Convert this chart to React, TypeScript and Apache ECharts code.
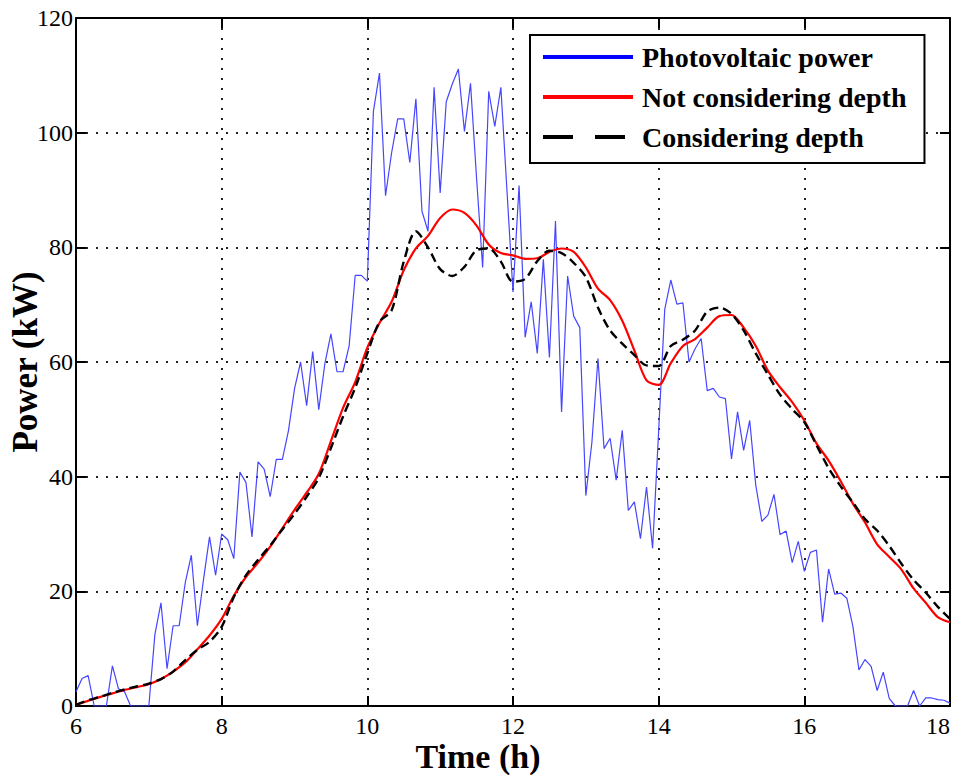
import React, { useEffect, useRef } from "react";
import * as echarts from "echarts";

// Photovoltaic power (kW), 5-minute samples from 6:00 to 18:00
const pvPower = [
  2.5, 4.8, 5.3, 0, 0, 0, 7, 3, 2.5, 0, 0, 0,
  0, 12.5, 18, 6.5, 14, 14, 21.5, 26.3, 14, 22, 29.5, 22.8,
  30, 29, 25.7, 40.8, 39, 29.5, 42.6, 41.3, 36.5, 43, 43, 48,
  55.3, 60, 52.4, 61.8, 51.7, 59.7, 64.9, 58.3, 58.3, 62.8, 75.1, 75.1,
  74.1, 103.7, 110.4, 89, 96.5, 102.4, 102.4, 94.8, 105.9, 86.3, 82.8, 107.9,
  89.5, 105.4, 108.5, 111.1, 100.2, 108.6, 92, 76.5, 107.2, 101.1, 107.9, 90,
  72.2, 90.8, 64.3, 70.5, 61.5, 77.9, 60.8, 84.6, 51.3, 75, 68, 66,
  36.7, 46, 60.6, 44.9, 46.7, 39.4, 48.1, 34.1, 35.6, 29.2, 38.2, 27.5,
  48, 69.2, 74.3, 70.1, 70.3, 60, 62.3, 64.1, 55, 55.4, 53.9, 53.6,
  43.1, 51.3, 44.6, 49.8, 38.5, 32.2, 33.3, 36.9, 29.9, 30.5, 25, 28.7,
  23.5, 26.8, 27.2, 14.6, 23.9, 19.5, 19.7, 18.8, 13.9, 6.3, 8.1, 6.9,
  2.7, 5.9, 1.3, 0, 0, 0, 2.7, 0, 1.4, 1.4, 1.1, 1,
  0.5,
];

// Not considering depth (kW), 10-minute samples from 6:00 to 18:00
const notConsideringDepth = [
  0.2, 0.9, 1.6, 2.2, 2.8, 3.3,
  3.8, 4.7, 6.0, 7.6, 9.9, 12.3,
  15.2, 19.2, 22.5, 25.0, 27.8, 31.0,
  34.2, 37.2, 40.5, 46.2, 52.0, 56.5,
  62.5, 66.8, 70.5, 76.0, 79.8, 82.0,
  85.1, 86.6, 86.0, 83.8, 80.5, 79.0,
  78.6, 78.0, 78.1, 79.2, 79.8, 79.2,
  76.5, 72.8, 70.8, 67.2, 62.0, 56.8,
  56.0, 59.8, 62.8, 64.0, 66.0, 68.0,
  68.2, 66.0, 62.8, 58.5, 55.6, 53.0,
  49.8, 45.8, 42.8, 39.2, 35.3, 32.0,
  28.2, 26.0, 23.8, 20.5, 18.0, 15.5,
  14.6,
];

// Considering depth (kW), 10-minute samples from 6:00 to 18:00
const consideringDepth = [
  0.2, 1.0, 1.6, 2.3, 2.9, 3.4,
  3.9, 4.7, 6.0, 8.0, 9.8, 11.2,
  13.8, 19.0, 22.8, 25.5, 28.0, 30.8,
  33.5, 36.5, 39.8, 45.0, 50.5, 55.5,
  61.5, 67.0, 69.0, 77.5, 82.8, 80.0,
  76.2, 75.0, 76.6, 79.5, 79.8, 77.5,
  74.0, 74.5, 77.6, 79.4, 79.0, 77.3,
  74.8, 69.5, 65.5, 63.2, 61.2, 59.4,
  59.3, 62.8, 63.9, 65.5, 68.8, 69.5,
  68.4, 65.5, 61.5, 57.8, 54.3, 51.8,
  49.5, 45.5, 41.5, 38.3, 35.5, 32.6,
  30.6, 27.9, 24.8, 22.0, 19.8, 17.3,
  15.2,
];

const seriesNames = ["Photovoltaic power", "Not considering depth", "Considering depth"];
const START_HOUR = 6;
const PV_STEP = 1 / 12;
const SMOOTH_STEP = 1 / 6;

const FONT = "Liberation Serif";

export default function App() {
  const ref = useRef<HTMLDivElement>(null);

  useEffect(() => {
    document.body.style.margin = "0";
    const chart = echarts.init(ref.current!, null, { renderer: "svg" });

    const axisLine = { show: true, onZero: false, lineStyle: { color: "#000", width: 2 } };
    const axisTick = { show: true, inside: true, length: 10, lineStyle: { color: "#000", width: 2 } };
    const gridLine = { show: true, lineStyle: { color: "#222", width: 2, type: [2, 8] as any } };
    const hiddenSymbol = { opacity: 0 };

    chart.setOption({
      animation: false,
      backgroundColor: "#fff",
      grid: {
        left: 76,
        right: 8,
        top: 18,
        bottom: 69,
        show: false,
        containLabel: false,
        outerBoundsMode: "none",
      },
      legend: {
        orient: "vertical",
        left: 530,
        top: 35,
        padding: [8, 18, 12, 11],
        itemGap: 12,
        itemWidth: 90,
        itemHeight: 14,
        backgroundColor: "#fff",
        borderColor: "#000",
        borderWidth: 2,
        borderRadius: 0,
        textStyle: {
          fontFamily: FONT,
          fontSize: 28,
          fontWeight: "bold",
          color: "#000",
          padding: [0, 0, 0, 4],
        },
        data: [
          { name: seriesNames[0], itemStyle: hiddenSymbol, lineStyle: { width: 4, color: "#0000ff" } },
          { name: seriesNames[1], itemStyle: hiddenSymbol, lineStyle: { width: 4, color: "#ff0000" } },
          { name: seriesNames[2], itemStyle: hiddenSymbol, lineStyle: { width: 4, color: "#000", type: [30, 22] } },
        ],
      },
      xAxis: [
        {
          type: "value",
          min: 6,
          max: 18,
          interval: 2,
          position: "bottom",
          axisLine,
          axisTick,
          axisLabel: {
            color: "#000",
            fontSize: 24,
            fontFamily: FONT,
            margin: 8,
            alignMaxLabel: "right",
          },
          splitLine: gridLine,
          name: "Time (h)",
          nameLocation: "middle",
          nameGap: 32,
          nameMoveOverlap: false,
          nameTextStyle: {
            fontFamily: FONT,
            fontSize: 34,
            lineHeight: 36,
            fontWeight: "bold",
            color: "#000",
            padding: [0, 70, 0, 0],
          },
        },
        {
          type: "value",
          min: 6,
          max: 18,
          interval: 2,
          position: "top",
          axisLine,
          axisTick,
          axisLabel: { show: false },
          splitLine: { show: false },
        },
      ],
      yAxis: [
        {
          type: "value",
          min: 0,
          max: 120,
          interval: 20,
          position: "left",
          axisLine,
          axisTick,
          axisLabel: { color: "#000", fontSize: 24, fontFamily: FONT, margin: 3 },
          splitLine: gridLine,
          name: "Power (kW)",
          nameLocation: "middle",
          nameGap: 33,
          nameMoveOverlap: false,
          nameRotate: 90,
          nameTextStyle: {
            fontFamily: FONT,
            fontSize: 35,
            fontWeight: "bold",
            color: "#000",
          },
        },
        {
          type: "value",
          min: 0,
          max: 120,
          interval: 20,
          position: "right",
          axisLine,
          axisTick,
          axisLabel: { show: false },
          splitLine: { show: false },
        },
      ],
      series: [
        {
          name: seriesNames[0],
          type: "line",
          symbol: "none",
          clip: true,
          data: pvPower.map((v, i) => [START_HOUR + i * PV_STEP, v]),
          lineStyle: { color: "#4646ff", width: 1.2 },
          itemStyle: { color: "#0000ff" },
        },
        {
          name: seriesNames[1],
          type: "line",
          symbol: "none",
          smooth: 0.3,
          clip: true,
          data: notConsideringDepth.map((v, i) => [START_HOUR + i * SMOOTH_STEP, v]),
          lineStyle: { color: "#ff0000", width: 2.2 },
          itemStyle: { color: "#ff0000" },
        },
        {
          name: seriesNames[2],
          type: "line",
          symbol: "none",
          smooth: 0.3,
          clip: true,
          data: consideringDepth.map((v, i) => [START_HOUR + i * SMOOTH_STEP, v]),
          lineStyle: { color: "#000", width: 2.4, type: [9, 5] },
          itemStyle: { color: "#000" },
        },
      ],
    });

    return () => chart.dispose();
  }, []);

  return <div ref={ref} style={{ width: 958, height: 775 }} />;
}
